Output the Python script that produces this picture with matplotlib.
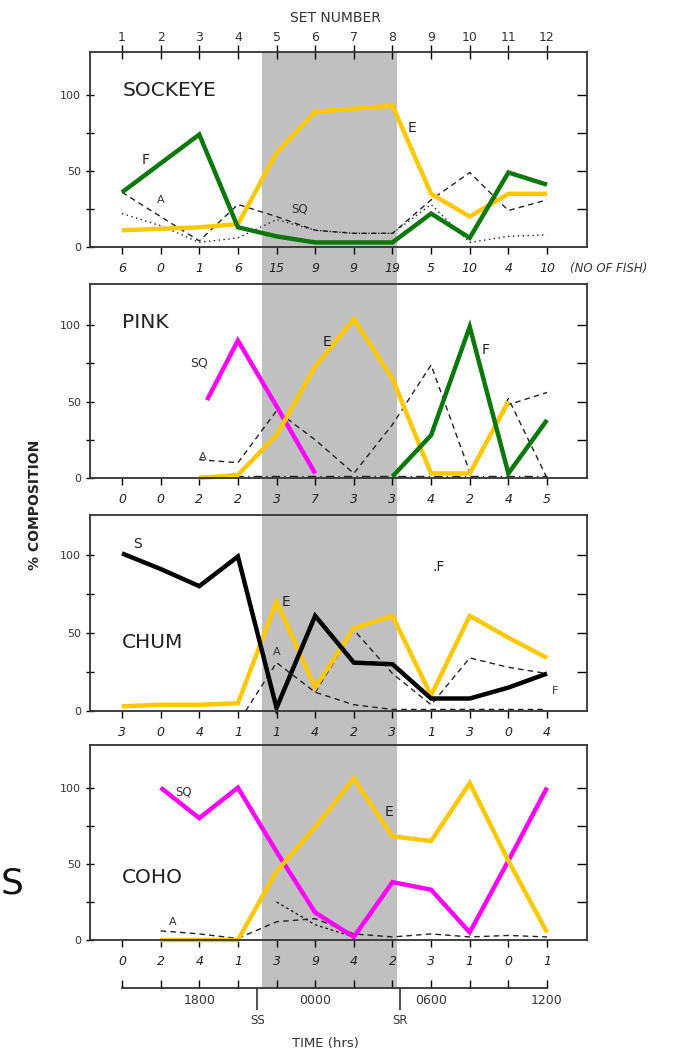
import numpy as np
import matplotlib
matplotlib.use("Agg")
import matplotlib.pyplot as plt
from matplotlib.patches import Rectangle
from matplotlib.transforms import blended_transform_factory

nan = np.nan
sets = [1, 2, 3, 4, 5, 6, 7, 8, 9, 10, 11, 12]
set_labels = ['1', '2', '3', '4', '5', '6', '7', '8', '9', '10', '11', '12']

fish_sockeye = ['6', '0', '1', '6', '15', '9', '9', '19', '5', '10', '4', '10']
fish_pink = ['0', '0', '2', '2', '3', '7', '3', '3', '4', '2', '4', '5']
fish_chum = ['3', '0', '4', '1', '1', '4', '2', '3', '1', '3', '0', '4']
fish_coho = ['0', '2', '4', '1', '3', '9', '4', '2', '3', '1', '0', '1']

# Sockeye
sockeye_E = [11, 12, 13, 15, 62, 89, 91, 93, 35, 20, 35, 35]
sockeye_F = [36, 55, 74, 13, 7, 3, 3, 3, 22, 6, 49, 41]
sockeye_A = [36, 20, 4, 28, 20, 11, 9, 9, 31, 49, 24, 31]
sockeye_S = [22, 14, 3, 6, 18, 11, 9, 9, 28, 3, 7, 8]

# Pink
pink_SQ_sets = [3.2, 4, 5, 6]
pink_SQ = [51, 90, 47, 3]
pink_E_sets = [3, 4, 5, 6, 7, 8, 9, 10, 11]
pink_E = [0, 2, 28, 73, 104, 65, 3, 3, 50]
pink_F_sets = [8, 9, 10, 11, 12]
pink_F = [1, 28, 99, 3, 38]
pink_A_sets = [3, 4, 5, 6, 7, 8, 9, 10, 11, 12]
pink_A = [12, 10, 44, 25, 3, 35, 74, 4, 48, 56]
pink_B_sets = [10, 11, 12]
pink_B = [4, 52, 0]
pink_base_sets = [3, 12]
pink_base = [1, 1]

# Chum
chum_S = [101, 91, 80, 99, 2, 61, 31, 30, 8, 8, 15, 24]
chum_E = [3, 4, 4, 5, 70, 15, 53, 61, 10, 61, 47, 34]
chum_A_sets = [4.2, 5, 6, 7, 8, 9, 10, 11, 12]
chum_A = [0, 31, 12, 4, 1, 1, 1, 1, 1]
chum_B_sets = [6, 7, 8, 9, 10, 11, 12]
chum_B = [12, 52, 24, 4, 34, 28, 24]

# Coho
coho_sets = [2, 3, 4, 5, 6, 7, 8, 9, 10, 11, 12]
coho_SQ = [100, 80, 100, 58, 18, 2, 38, 33, 5, 52, 100]
coho_E = [0, 0, 0, 45, 74, 106, 68, 65, 103, 52, 5]
coho_A = [6, 4, 1, 12, 14, 4, 2, 4, 2, 3, 2]
coho_F_sets = [5, 6, 7]
coho_F = [25, 10, 2]

time_labels = ['', '', '1800', '', '', '0000', '', '', '0600', '', '', '1200']
sunset, sunrise = 4.5, 8.2
night = (4.63, 8.12)

YELLOW = '#FFC800'
GREEN = '#0A780A'
MAGENTA = '#FF00FF'
GRAY = '#C0C0C0'

W, H = 694, 1055
fig = plt.figure(figsize=(W / 100, H / 100), dpi=100)
fig.patch.set_facecolor('white')

left = 90 / W
width = (587 - 90) / W
xlim = (0.172, 13.035)
panels = [
    ('SOCKEYE', 52, 247, 128.3, fish_sockeye, 0.805),
    ('PINK', 284, 478, 127, fish_pink, 0.80),
    ('CHUM', 515, 711, 125.6, fish_chum, 0.35),
    ('COHO', 745, 940, 128, fish_coho, 0.32),
]
axes = []
for name, top, bot, ymax, fish, ly in panels:
    ax = fig.add_axes([left, 1 - bot / H, width, (bot - top) / H])
    ax.set_facecolor('none')
    ax.set_xlim(*xlim)
    ax.set_ylim(0, ymax)
    ax.set_xticks(sets)
    ax.set_xticklabels(fish, fontsize=9, style='italic', color='#222222')
    ax.tick_params(axis='x', direction='out', length=5, width=1, pad=6)
    ax.set_yticks([0, 25, 50, 75, 100])
    ax.set_yticklabels(['0', '', '50', '', '100'], fontsize=8, color='#333333')
    ax.tick_params(axis='y', direction='inout', length=6, width=1, right=False)
    rs = ax.secondary_yaxis('right')
    rs.set_yticks([25, 50, 75, 100])
    rs.set_yticklabels([])
    rs.tick_params(direction='in', length=7, width=1)
    rs.spines['right'].set_visible(False)
    for s in ax.spines.values():
        s.set_linewidth(1.3)
        s.set_color('#333333')
    ax.text(0.065, ly, name, transform=ax.transAxes, fontsize=14.5,
            color='#222222', ha='left', va='center')
    axes.append(ax)

ax1, ax2, ax3, ax4 = axes

# top set-number axis on sockeye panel
sec = ax1.secondary_xaxis('top')
sec.set_xticks(sets)
sec.set_xticklabels(set_labels, fontsize=9, color='#333333')
sec.tick_params(direction='inout', length=10, width=1, pad=1)
sec.spines['top'].set_visible(False)
fig.text(335 / W, 1 - 18 / H, 'SET NUMBER', fontsize=10, ha='center', va='center',
         color='#333333')
ax1.text(12.6, -0.11, '(NO OF FISH)', transform=blended_transform_factory(ax1.transData, ax1.transAxes),
         fontsize=8.5, style='italic', ha='left', va='center', color='#333333', clip_on=False)

# night shading spanning all panels
shade = Rectangle((night[0], 1 - 988 / H), night[1] - night[0], (988 - 52) / H,
                  transform=blended_transform_factory(ax1.transData, fig.transFigure),
                  facecolor=GRAY, edgecolor='none', zorder=-5)
fig.patches.append(shade)

kw = dict(clip_on=False, solid_joinstyle='miter', solid_capstyle='butt')
thin = dict(clip_on=False, color='#222222', lw=1.0)

# Sockeye
ax1.plot(sets, sockeye_A, ls=(0, (4, 3)), **thin)
ax1.plot(sets, sockeye_S, ls=(0, (1, 2.5)), **thin)
ax1.plot(sets, sockeye_E, color=YELLOW, lw=3.2, **kw)
ax1.plot(sets, sockeye_F, color=GREEN, lw=3.2, **kw)
ax1.text(8.5, 78, 'E', fontsize=10, color='#222222', ha='center', va='center')
ax1.text(1.6, 57, 'F', fontsize=10, color='#222222', ha='center', va='center')
ax1.text(5.6, 25, 'SQ', fontsize=8.5, color='#333333', ha='center', va='center')
ax1.text(2.0, 31, 'A', fontsize=8, color='#333333', ha='center', va='center')

# Pink
ax2.plot(pink_A_sets, pink_A, ls=(0, (4, 3)), **thin)
ax2.plot(pink_B_sets, pink_B, ls=(0, (4, 3)), **thin)
ax2.plot(pink_base_sets, pink_base, ls=(0, (6, 3, 1, 3)), **thin)
ax2.plot(pink_SQ_sets, pink_SQ, color=MAGENTA, lw=3.2, **kw)
ax2.plot(pink_E_sets, pink_E, color=YELLOW, lw=3.2, **kw)
ax2.plot(pink_F_sets, pink_F, color=GREEN, lw=3.2, **kw)
ax2.text(3.0, 75, 'SQ', fontsize=9, color='#333333', ha='center', va='center')
ax2.text(6.3, 89, 'E', fontsize=10, color='#222222', ha='center', va='center')
ax2.text(10.4, 84, 'F', fontsize=10, color='#222222', ha='center', va='center')
ax2.text(3.1, 14, 'A', fontsize=8, color='#333333', ha='center', va='center')

# Chum
ax3.plot(chum_A_sets, chum_A, ls=(0, (4, 3)), **thin)
ax3.plot(chum_B_sets, chum_B, ls=(0, (4, 3)), **thin)
ax3.plot(sets, chum_E, color=YELLOW, lw=3.2, **kw)
ax3.plot(sets, chum_S, color='black', lw=3.2, **kw)
ax3.text(1.4, 107, 'S', fontsize=10, color='#222222', ha='center', va='center')
ax3.text(5.25, 70, 'E', fontsize=10, color='#222222', ha='center', va='center')
ax3.text(5.0, 38, 'A', fontsize=8, color='#333333', ha='center', va='center')
ax3.text(9.2, 92, '.F', fontsize=10, color='#222222', ha='center', va='center')
ax3.text(12.2, 13, 'F', fontsize=8, color='#333333', ha='center', va='center')

# Coho
ax4.plot(coho_sets, coho_A, ls=(0, (4, 3)), **thin)
ax4.plot(coho_F_sets, coho_F, ls=(0, (2, 2)), **thin)
ax4.plot(coho_sets, coho_SQ, color=MAGENTA, lw=3.2, **kw)
ax4.plot(coho_sets, coho_E, color=YELLOW, lw=3.2, **kw)
ax4.text(2.6, 97, 'SQ', fontsize=8.5, color='#333333', ha='center', va='center')
ax4.text(7.9, 84, 'E', fontsize=10, color='#222222', ha='center', va='center')
ax4.text(2.3, 12, 'A', fontsize=8, color='#333333', ha='center', va='center')

# Time axis
axt = fig.add_axes([left, 1 - 1030 / H, width, 42 / H])
axt.set_facecolor('none')
axt.set_xlim(*xlim)
axt.set_ylim(0, 1)
for k in ['left', 'right', 'bottom']:
    axt.spines[k].set_visible(False)
axt.spines['top'].set_bounds(1, 12)
axt.spines['top'].set_linewidth(1.3)
axt.spines['top'].set_color('#333333')
axt.xaxis.set_ticks_position('top')
axt.set_xticks(sets)
axt.set_xticklabels([])
axt.tick_params(axis='x', direction='out', length=6, width=1)
axt.set_yticks([])
for x, lab in zip(sets, time_labels):
    if lab:
        axt.text(x, 0.71, lab, fontsize=9, ha='center', va='center', color='#333333')
axt.vlines([sunset, sunrise], 0.48, 1.0, color='#333333', lw=1.2)
axt.text(sunset, 0.22, 'SS', fontsize=8.5, ha='center', va='center', color='#333333')
axt.text(sunrise, 0.22, 'SR', fontsize=8.5, ha='center', va='center', color='#333333')
fig.text(325 / W, 1 - 1043 / H, 'TIME (hrs)', fontsize=9.5, ha='center', va='center',
         color='#333333')

# y label
fig.text(35 / W, 1 - 505 / H, '% COMPOSITION', rotation=90, fontsize=10,
         ha='center', va='center', color='#222222', fontweight='bold')

# stray slide text at left edge
fig.text(1 / W, 1 - 884 / H, 'S', fontsize=26, ha='left', va='center', color='#111111')

fig.savefig('out.png', dpi=100)
